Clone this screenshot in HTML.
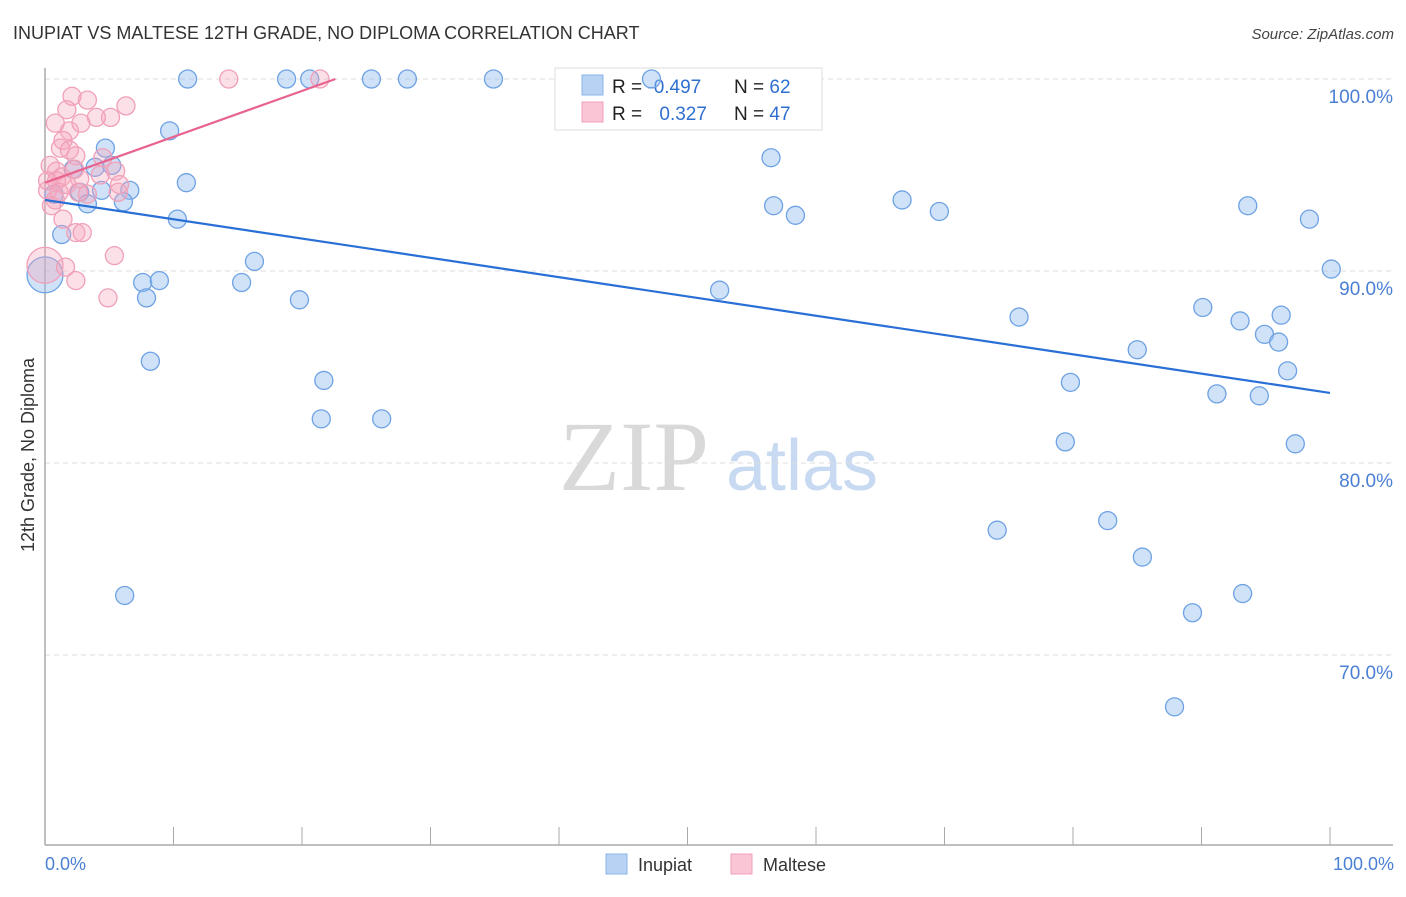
<!DOCTYPE html>
<html><head><meta charset="utf-8"><style>
body{margin:0;background:#fff;font-family:"Liberation Sans",sans-serif;}
svg text{font-family:"Liberation Sans",sans-serif;}
</style></head><body>
<svg id="chart" width="1406" height="892" xmlns="http://www.w3.org/2000/svg">
<text x="13" y="39" font-size="18" fill="#333">INUPIAT VS MALTESE 12TH GRADE, NO DIPLOMA CORRELATION CHART</text>
<text x="1394" y="39" font-size="15" fill="#444" text-anchor="end" font-style="italic">Source: ZipAtlas.com</text>
<g>
<text x="634" y="490" font-size="100" fill="#d9d9d9" text-anchor="middle" style="font-family:'Liberation Serif',serif">ZIP</text>
<text x="802" y="490" font-size="72" fill="#c8daf2" text-anchor="middle">atlas</text>
</g>
<g id="grid"></g>
<g id="axes"></g>
<g>
<rect x="555" y="68" width="267" height="62" fill="#fff" stroke="#ddd"/>
<rect x="582" y="75" width="21" height="20" fill="#b8d2f4" stroke="#8ab4ea"/>
<rect x="582" y="102" width="21" height="20" fill="#fac5d4" stroke="#f0a0b8"/>
<text x="612" y="93" font-size="19" fill="#222">R = <tspan fill="#2f6fd0">-0.497</tspan></text>
<text x="734" y="93" font-size="19" fill="#222">N = <tspan fill="#2f6fd0">62</tspan></text>
<text x="612" y="120" font-size="19" fill="#222">R = <tspan fill="#2f6fd0" dx="12">0.327</tspan></text>
<text x="734" y="120" font-size="19" fill="#222">N = <tspan fill="#2f6fd0">47</tspan></text>
</g>
<g id="pts"></g>
<g id="trend"></g>
<text transform="translate(34,455) rotate(-90)" font-size="18" fill="#333" text-anchor="middle">12th Grade, No Diploma</text>
<text x="45" y="870" font-size="18" fill="#4a7fd4">0.0%</text>
<text x="1394" y="870" font-size="18" fill="#4a7fd4" text-anchor="end">100.0%</text>
<g>
<rect x="606" y="854" width="21" height="20" fill="#b8d2f4" stroke="#8ab4ea"/>
<text x="638" y="871" font-size="18" fill="#333">Inupiat</text>
<rect x="731" y="854" width="21" height="20" fill="#fac5d4" stroke="#f0a0b8"/>
<text x="763" y="871" font-size="18" fill="#333">Maltese</text>
</g>
</svg>
<script>
const yTicks=[100,90,80,70];
const yTickLabels=["100.0%","90.0%","80.0%","70.0%"];
const blueX=[11.1,18.8,20.6,25.4,28.2,34.9,47.2,9.7,4.7,3.9,5.2,11.0,2.2,6.6,4.4,2.7,0.7,3.3,6.1,10.3,1.3,16.3,0,7.6,8.9,7.9,15.3,19.8,8.2,21.7,21.5,26.2,6.2,52.5,56.5,56.7,58.4,66.7,69.6,75.8,79.8,79.4,74.1,82.7,85.4,85.0,90.1,91.2,93.0,94.5,94.9,96.0,96.2,96.7,89.3,93.2,87.9,93.6,98.4,100.1,97.3];
const blueY=[100,100,100,100,100,100,100,97.3,96.4,95.4,95.5,94.6,95.3,94.2,94.2,94.1,94.0,93.5,93.6,92.7,91.9,90.5,89.8,89.4,89.5,88.6,89.4,88.5,85.3,84.3,82.3,82.3,73.1,89.0,95.9,93.4,92.9,93.7,93.1,87.6,84.2,81.1,76.5,77.0,75.1,85.9,88.1,83.6,87.4,83.5,86.7,86.3,87.7,84.8,72.2,73.2,67.3,93.4,92.7,90.1,81.0];
const pinkX=[14.3,21.4,2.1,3.3,1.7,6.3,5.1,4.0,0.8,1.9,2.8,1.4,1.2,1.9,2.4,0.4,0.9,1.3,2.3,4.5,5.5,2.7,1.7,0.2,0.8,3.3,5.7,0.5,1.4,2.4,2.9,5.4,0,1.6,2.4,4.9,0.9,0.2,4.3,2.6,5.8,1.1];
const pinkY=[100,100,99.1,98.9,98.4,98.6,98.0,98.0,97.7,97.3,97.7,96.8,96.4,96.3,96.0,95.5,95.2,94.9,95.3,95.9,95.2,94.8,94.5,94.2,93.7,94.0,94.1,93.4,92.7,92.0,92.0,90.8,90.3,90.2,89.5,88.6,94.7,94.7,95.0,94.1,94.5,94.1];
const blueBig=[22];const pinkBig=[32];
const blueTrend=[[0,93.7],[100,83.65]];
const pinkTrend=[[0,94.6],[22.6,100]];
const NS="http://www.w3.org/2000/svg";
const sx=v=>45+v*12.85, sy=v=>79+(100-v)*19.2;
function mk(t,a,p){const e=document.createElementNS(NS,t);for(const k in a)e.setAttribute(k,a[k]);document.getElementById(p).appendChild(e);return e;}
yTicks.forEach((t,i)=>{
 const g=mk('line',{x1:45,x2:1393,y1:sy(t),y2:sy(t),stroke:'#ddd','stroke-dasharray':'5,4'},'grid');
 
 
 const l=mk('text',{x:1393,y:sy(t)+24,'font-size':19,fill:'#4a7fd4','text-anchor':'end'},'grid');
 l.textContent=yTickLabels[i];
 
 
});
const ax=mk('line',{x1:45,x2:45,y1:68,y2:845,stroke:'#aaa','stroke-width':1.5},'axes');


const bx=mk('line',{x1:45,x2:1393,y1:845,y2:845,stroke:'#aaa','stroke-width':1.5},'axes');


for(let i=0;i<=10;i++){const t=mk('line',{x1:sx(i*10),x2:sx(i*10),y1:827,y2:845,stroke:'#aaa'},'axes');
 
 }
blueX.forEach((x,i)=>{const c=mk('circle',{cx:sx(x),cy:sy(blueY[i]),r:blueBig.includes(i)?18:9,fill:'rgba(150,190,240,0.45)',stroke:'#6ea2e4','stroke-width':1.3},'pts');
 
 });
pinkX.forEach((x,i)=>{const c=mk('circle',{cx:sx(x),cy:sy(pinkY[i]),r:pinkBig.includes(i)?18:9,fill:'rgba(245,165,190,0.35)',stroke:'#f0a0b8','stroke-width':1.3},'pts');
 
 });
const bl=mk('line',{x1:sx(blueTrend[0][0]),y1:sy(blueTrend[0][1]),x2:sx(blueTrend[1][0]),y2:sy(blueTrend[1][1]),stroke:'#2a6fd6','stroke-width':2.2},'trend');


const pl=mk('line',{x1:sx(pinkTrend[0][0]),y1:sy(pinkTrend[0][1]),x2:sx(pinkTrend[1][0]),y2:sy(pinkTrend[1][1]),stroke:'#e8648f','stroke-width':2.2},'trend');


</script>
</body></html>
